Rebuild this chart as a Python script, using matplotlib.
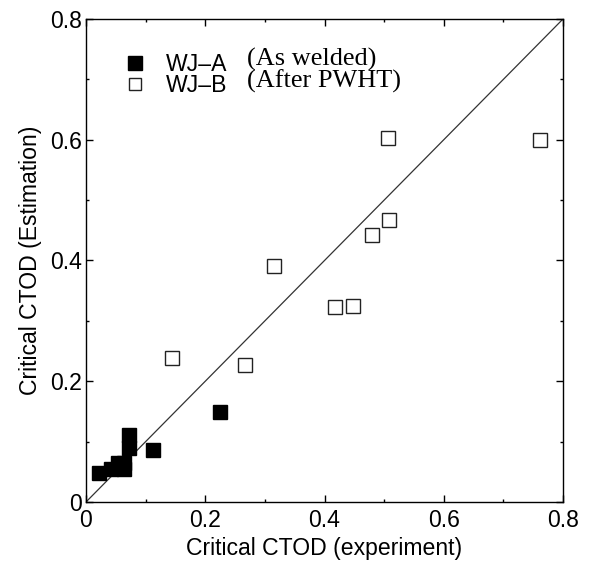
import numpy as np
import matplotlib
matplotlib.use("Agg")
import matplotlib.pyplot as plt
from matplotlib.ticker import MultipleLocator

# WJ-A (as welded): experiment vs estimation
wja_exp = [0.022, 0.042, 0.054, 0.064, 0.064, 0.072, 0.072, 0.112, 0.224]
wja_est = [0.048, 0.055, 0.065, 0.055, 0.065, 0.089, 0.111, 0.086, 0.149]

# WJ-B (after PWHT)
wjb_exp = [0.144, 0.266, 0.315, 0.417, 0.447, 0.479, 0.507, 0.509, 0.762]
wjb_est = [0.238, 0.227, 0.391, 0.323, 0.325, 0.442, 0.603, 0.467, 0.599]

diag = [0, 0.8]
labels = ["WJ\u2013A", "WJ\u2013B"]
notes = ["(As welded)", "(After PWHT)"]

plt.rcParams['font.family'] = ['Liberation Sans', 'DejaVu Sans']
plt.rcParams['font.size'] = 16.6

fig = plt.figure(figsize=(5.92, 5.72), dpi=100)
ax = fig.add_axes([86/592, 1 - 502/572, 477/592, 483/572])

ax.plot(diag, diag, color='#333333', lw=0.9, zorder=1)
ax.plot(wja_exp, wja_est, ls='none', marker='s', ms=10.5, mfc='black', mec='black',
        label=labels[0], zorder=3)
ax.plot(wjb_exp, wjb_est, ls='none', marker='s', ms=10, mfc='white', mec='#222222',
        mew=1.0, label=labels[1], zorder=3)

ax.set_xlim(0, 0.8)
ax.set_ylim(0, 0.8)
ax.xaxis.set_major_locator(MultipleLocator(0.2))
ax.yaxis.set_major_locator(MultipleLocator(0.2))
ax.xaxis.set_minor_locator(MultipleLocator(0.1))
ax.yaxis.set_minor_locator(MultipleLocator(0.1))
ax.xaxis.set_major_formatter(lambda v, p: '0' if v == 0 else f'{v:.1f}')
ax.yaxis.set_major_formatter(lambda v, p: '0' if v == 0 else f'{v:.1f}')
ax.tick_params(which='both', direction='in', top=True, right=True, width=1)
ax.tick_params(which='major', length=5)
ax.tick_params(which='minor', length=2.5)
ax.tick_params(axis='x', which='major', pad=5)
ax.tick_params(axis='y', which='major', pad=3)
for s in ax.spines.values():
    s.set_linewidth(1.0)

ax.set_xlabel("Critical CTOD (experiment)", labelpad=4)
ax.set_ylabel("Critical CTOD (Estimation)", labelpad=6)

leg = ax.legend(loc='upper left', bbox_to_anchor=(0.081, 0.929), frameon=False,
                borderpad=0, borderaxespad=0, handlelength=0.9, handletextpad=0.9,
                labelspacing=-0.1, markerscale=0.9)
for i, t in enumerate(notes):
    ax.text(0.3375, [0.9027, 0.857][i], t, transform=ax.transAxes, va='baseline',
            ha='left', family=['Liberation Serif', 'DejaVu Serif'], fontsize=18.9)

fig.savefig("out.png", dpi=100)
